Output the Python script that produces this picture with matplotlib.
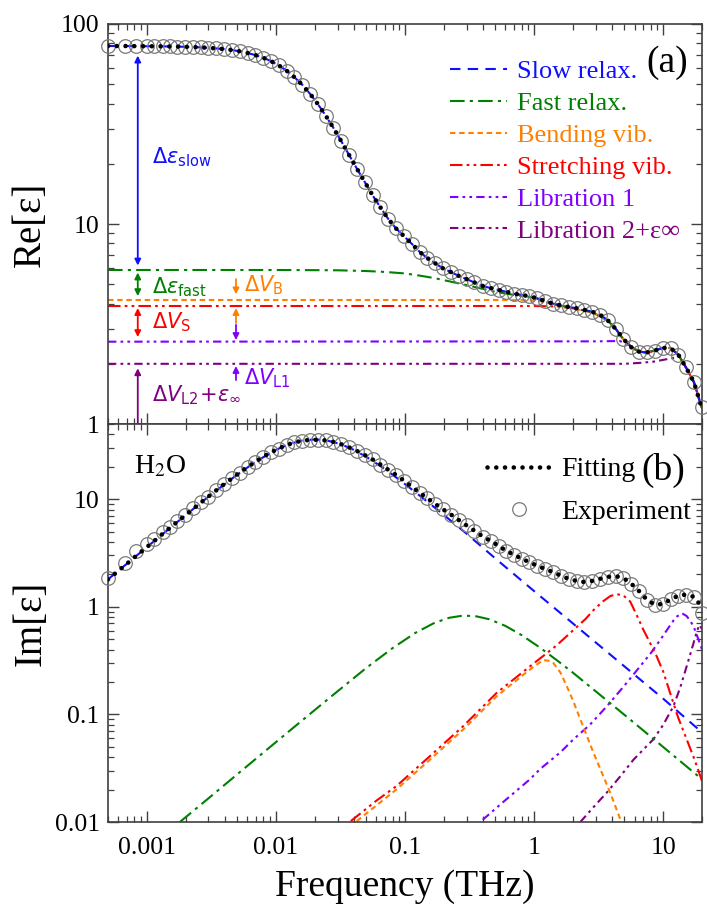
#!/usr/bin/env python3
"""Dielectric spectrum of water: Re and Im parts with relaxation/vibration components."""

import matplotlib

matplotlib.use("Agg")
import matplotlib.pyplot as plt
from matplotlib.lines import Line2D
from matplotlib.ticker import FixedLocator, FuncFormatter, LogLocator, NullFormatter

plt.rcParams["font.family"] = ["Liberation Serif", "DejaVu Serif"]
plt.rcParams["mathtext.fontset"] = "stix"

# ---- data (frequency in THz) ----
freq_thz = [0.00050, 0.00068, 0.00083, 0.00100, 0.00113, 0.00134, 0.00150, 0.00172, 0.00198, 0.00228,
            0.00262, 0.00300, 0.00345, 0.00397, 0.00456, 0.00525, 0.00603, 0.00693, 0.00797, 0.00916,
            0.0105, 0.0121, 0.0139, 0.0160, 0.0184, 0.0211, 0.0243, 0.0279, 0.0321, 0.0369,
            0.0424, 0.0488, 0.0561, 0.0645, 0.0741, 0.0852, 0.098, 0.113, 0.130, 0.149,
            0.172, 0.197, 0.227, 0.261, 0.300, 0.345, 0.40, 0.46, 0.53, 0.61,
            0.70, 0.80, 0.92, 1.06, 1.22, 1.40, 1.61, 1.85, 2.13, 2.45,
            2.82, 3.24, 3.72, 4.28, 4.92, 5.66, 6.5, 7.5, 8.6, 9.9,
            11.4, 13.1, 15.0, 17.3, 19.9]

exp_re = [77.6, 77.6, 77.5, 77.4, 77.4, 77.3, 77.2, 77.1, 76.9, 76.7,
          76.4, 76.0, 75.5, 74.9, 74.1, 73.0, 71.6, 69.9, 67.8, 65.2,
          62.1, 58.4, 54.2, 49.6, 44.7, 39.8, 34.8, 30.2, 25.9, 22.1,
          18.9, 16.2, 13.9, 12.1, 10.6, 9.5, 8.7, 7.95, 7.25, 6.75,
          6.35, 6.0, 5.75, 5.5, 5.3, 5.1, 4.9, 4.78, 4.68, 4.58,
          4.48, 4.42, 4.35, 4.25, 4.12, 4.0, 3.92, 3.85, 3.79, 3.72,
          3.64, 3.52, 3.30, 2.99, 2.66, 2.42, 2.30, 2.28, 2.33, 2.40,
          2.40, 2.22, 1.92, 1.62, 1.22]

exp_im = [1.85, 2.55, 3.30, 3.85, 4.25, 4.95, 5.5, 6.25, 7.15, 8.2,
          9.35, 10.6, 12.1, 13.8, 15.6, 17.7, 19.9, 22.3, 24.8, 27.3,
          29.6, 31.9, 33.7, 35.0, 35.6, 35.7, 35.2, 34.1, 32.4, 30.3,
          28.1, 25.7, 23.4, 21.0, 18.8, 16.8, 14.9, 13.0, 11.5, 10.2,
          9.0, 8.05, 7.2, 6.4, 5.7, 5.1, 4.5, 4.1, 3.7, 3.3,
          3.05, 2.8, 2.6, 2.4, 2.25, 2.1, 1.95, 1.82, 1.74, 1.70,
          1.74, 1.82, 1.90, 1.93, 1.85, 1.64, 1.40, 1.16, 1.05, 1.06,
          1.17, 1.27, 1.30, 1.24, 0.88]

fit_re = [77.6, 77.6, 77.5, 77.4, 77.4, 77.3, 77.2, 77.1, 76.9, 76.7,
          76.4, 76.0, 75.5, 74.9, 74.1, 73.0, 71.6, 69.9, 67.8, 65.2,
          62.1, 58.4, 54.2, 49.6, 44.7, 39.8, 34.8, 30.2, 25.9, 22.1,
          18.9, 16.2, 13.9, 12.1, 10.6, 9.5, 8.7, 7.95, 7.25, 6.75,
          6.35, 6.0, 5.75, 5.5, 5.3, 5.1, 4.9, 4.78, 4.68, 4.58,
          4.48, 4.42, 4.35, 4.25, 4.12, 4.0, 3.92, 3.85, 3.79, 3.72,
          3.64, 3.52, 3.30, 2.99, 2.66, 2.42, 2.30, 2.28, 2.33, 2.40,
          2.40, 2.22, 1.92, 1.62, 1.20]

fit_im = [1.80, 2.44, 2.99, 3.59, 4.06, 4.82, 5.39, 6.17, 7.08, 8.12,
          9.3, 10.6, 12.1, 13.8, 15.6, 17.7, 19.9, 22.3, 24.8, 27.3,
          29.6, 31.9, 33.7, 35.0, 35.6, 35.7, 35.2, 34.1, 32.4, 30.3,
          28.1, 25.7, 23.4, 21.0, 18.8, 16.8, 14.9, 13.0, 11.5, 10.2,
          9.0, 8.05, 7.2, 6.4, 5.7, 5.1, 4.5, 4.1, 3.7, 3.3,
          3.05, 2.8, 2.6, 2.4, 2.25, 2.1, 1.95, 1.82, 1.74, 1.70,
          1.74, 1.82, 1.90, 1.93, 1.85, 1.64, 1.40, 1.16, 1.05, 1.06,
          1.17, 1.27, 1.30, 1.24, 1.00]

# cumulative components, real part
fast_re_thz = [0.0005, 0.01, 0.03, 0.05, 0.07, 0.1, 0.13, 0.17, 0.22, 0.3, 0.4, 0.5, 0.7, 1.0, 1.4,
               2.0, 2.8, 3.7, 4.3, 4.9, 5.7, 6.5, 7.5, 8.6, 9.9, 11.4, 13.1, 15.0, 17.3, 20.0]
fast_re = [5.89, 5.89, 5.87, 5.82, 5.76, 5.66, 5.52, 5.36, 5.17, 4.95, 4.74, 4.58, 4.42, 4.28, 3.98,
           3.80, 3.63, 3.30, 2.99, 2.66, 2.42, 2.30, 2.28, 2.33, 2.40, 2.40, 2.22, 1.92, 1.62, 1.20]
bend_re_thz = [0.0005, 0.5, 0.9, 1.1, 1.3, 1.5, 2.0, 2.8, 3.7, 4.3, 4.9, 5.7, 6.5, 7.5, 8.6,
               9.9, 11.4, 13.1, 15.0, 17.3, 20.0]
bend_re = [4.17, 4.17, 4.16, 4.12, 4.02, 3.90, 3.77, 3.62, 3.30, 2.99, 2.66, 2.42, 2.30, 2.28, 2.33,
           2.40, 2.40, 2.22, 1.92, 1.62, 1.20]
stretch_re_thz = [0.0005, 1.0, 1.5, 2.0, 2.8, 3.7, 4.3, 4.9, 5.7, 6.5, 7.5, 8.6, 9.9, 11.4, 13.1,
                  15.0, 17.3, 20.0]
stretch_re = [3.89, 3.89, 3.87, 3.79, 3.63, 3.30, 2.99, 2.66, 2.42, 2.30, 2.28, 2.33, 2.40, 2.40, 2.22,
              1.92, 1.62, 1.20]
lib1_re_thz = [0.0005, 3.0, 4.6, 5.2, 5.7, 6.5, 7.5, 8.6, 9.9, 11.4, 13.1, 15.0, 17.3, 20.0]
lib1_re = [2.58, 2.59, 2.60, 2.53, 2.42, 2.30, 2.28, 2.33, 2.40, 2.40, 2.22, 1.92, 1.62, 1.20]
lib2_re_thz = [0.0005, 5.0, 6.5, 8.4, 10.7, 13.5, 15.0, 17.3, 20.0]
lib2_re = [2.0, 2.0, 2.02, 2.05, 2.11, 2.17, 1.92, 1.62, 1.20]

# individual components, imaginary part
slow_im_thz = [0.0005, 0.001, 0.002, 0.003, 0.005, 0.007, 0.01, 0.013, 0.016, 0.02, 0.025, 0.032,
               0.04, 0.05, 0.065, 0.08, 0.1, 0.15, 0.2, 0.3, 0.5, 1.0, 2.0, 5.0, 10.0, 20.0]
slow_im = [1.80, 3.59, 7.13, 10.56, 16.9, 22.4, 28.8, 32.9, 35.1, 36.0, 35.1, 32.4,
           28.8, 24.8, 20.2, 16.9, 13.8, 9.43, 7.13, 4.78, 2.82, 1.40, 0.70, 0.28, 0.14, 0.068]
fast_im_thz = [0.0018, 0.003, 0.005, 0.01, 0.02, 0.03, 0.05, 0.08, 0.12, 0.17, 0.22, 0.28, 0.35,
               0.45, 0.6, 0.8, 1.1, 1.5, 2.0, 3.0, 5.0, 8.0, 12.0, 20.0]
fast_im = [0.0100, 0.0166, 0.0277, 0.0553, 0.110, 0.164, 0.270, 0.413, 0.572, 0.712, 0.791, 0.828, 0.820,
           0.766, 0.664, 0.546, 0.421, 0.319, 0.244, 0.164, 0.0993, 0.0622, 0.0415, 0.0249]
bend_im_thz = [0.0423, 0.0863, 0.156, 0.283, 0.514, 0.826, 1.0, 1.18, 1.3, 1.41, 1.6, 1.79, 2.0,
               2.28, 2.88, 3.88, 4.64, 5.0]
bend_im = [0.0102, 0.0202, 0.038, 0.0727, 0.148, 0.234, 0.28, 0.32, 0.315, 0.30, 0.245, 0.183, 0.135,
           0.090, 0.0442, 0.0188, 0.0107, 0.008]
stretch_im_thz = [0.038, 0.06, 0.0863, 0.156, 0.283, 0.514, 0.93, 1.25, 1.5, 2.02, 2.5, 2.88, 3.4,
                  3.9, 4.37, 4.9, 5.55, 6.2, 7.03, 8.0, 8.9, 10.0, 11.3, 13.0, 15.2, 17.5, 20.0]
stretch_im = [0.0102, 0.0158, 0.0217, 0.041, 0.078, 0.159, 0.28, 0.37, 0.44, 0.61, 0.77, 0.93, 1.12,
              1.26, 1.31, 1.28, 1.12, 0.85, 0.61, 0.45, 0.347, 0.25, 0.159, 0.095, 0.0587, 0.038, 0.024]
lib1_im_thz = [0.40, 0.6, 0.93, 1.11, 1.59, 2.02, 2.7, 3.66, 5.0, 6.63, 8.0, 9.5, 11.0, 12.5, 14.0,
               15.2, 16.2, 17.2, 18.5, 20.0]
lib1_im = [0.0105, 0.016, 0.025, 0.031, 0.0442, 0.0587, 0.080, 0.119, 0.185, 0.28, 0.37, 0.494, 0.64,
           0.80, 0.87, 0.82, 0.74, 0.658, 0.52, 0.40]
lib2_im_thz = [2.28, 3.0, 3.66, 4.7, 5.89, 7.0, 8.4, 10.0, 12.0, 13.6, 15.2, 17.0, 18.3, 19.1, 20.0]
lib2_im = [0.010, 0.0145, 0.0188, 0.027, 0.038, 0.047, 0.0587, 0.080, 0.119, 0.18, 0.28, 0.44, 0.60,
           0.68, 0.62]

# ---- styles ----
C_SLOW, C_FAST, C_BEND = "#1010ff", "#008000", "#ff8000"
C_STR, C_LIB1, C_LIB2 = "#ff0000", "#8000ff", "#800080"
LW = 1.5
LS_SLOW = (0, (5, 3.5))
LS_FAST = (0, (7, 2.5, 1.5, 2.5))
LS_BEND = (0, (2.6, 1.8))
LS_STR = (0, (6, 2, 1.3, 2, 1.3, 2))
LS_LIB = (0, (4, 2, 1.3, 2, 1.3, 2))
FIT_KW = dict(color="black", lw=3.3, linestyle=(0, (0.01, 1.9)), dash_capstyle="round", zorder=6)
EXP_KW = dict(ls="none", marker="o", ms=9.8, mfc="none", mec="#7a7a7a", mew=0.9, zorder=5, clip_on=False)
SPINE = "#404040"

fig = plt.figure(figsize=(7.07, 9.16), dpi=100)
ax1 = fig.add_axes([0.1528, 0.5371, 0.8402, 0.4367])
ax2 = fig.add_axes([0.1528, 0.1026, 0.8402, 0.4345])

# ---- (a) real part ----
ax1.plot(lib2_re_thz, lib2_re, color=C_LIB2, lw=LW, ls=LS_LIB, zorder=2)
ax1.plot(lib1_re_thz, lib1_re, color=C_LIB1, lw=LW, ls=LS_LIB, zorder=2)
ax1.plot(stretch_re_thz, stretch_re, color=C_STR, lw=LW, ls=LS_STR, zorder=2)
ax1.plot(bend_re_thz, bend_re, color=C_BEND, lw=LW, ls=LS_BEND, zorder=2)
ax1.plot(fast_re_thz, fast_re, color=C_FAST, lw=LW, ls=LS_FAST, zorder=2)
ax1.plot(freq_thz, fit_re, color=C_SLOW, lw=LW, ls=LS_SLOW, zorder=3)
ax1.plot(freq_thz, exp_re, **EXP_KW)
ax1.plot(freq_thz, fit_re, **FIT_KW)

# ---- (b) imaginary part ----
ax2.plot(lib2_im_thz, lib2_im, color=C_LIB2, lw=LW, ls=LS_LIB, zorder=2)
ax2.plot(lib1_im_thz, lib1_im, color=C_LIB1, lw=LW, ls=LS_LIB, zorder=2)
ax2.plot(stretch_im_thz, stretch_im, color=C_STR, lw=LW, ls=LS_STR, zorder=2)
ax2.plot(bend_im_thz, bend_im, color=C_BEND, lw=LW, ls=LS_BEND, zorder=2)
ax2.plot(fast_im_thz, fast_im, color=C_FAST, lw=LW, ls=LS_FAST, zorder=2)
ax2.plot(slow_im_thz, slow_im, color=C_SLOW, lw=LW, ls=LS_SLOW, zorder=3)
ax2.plot(freq_thz, exp_im, **EXP_KW)
ax2.plot(freq_thz, fit_im, **FIT_KW)


def plain(v, _):
    return f"{v:g}"


for ax, ylim, yt in ((ax1, (1, 100), [1, 10, 100]), (ax2, (0.01, 50), [0.01, 0.1, 1, 10])):
    ax.set_xscale("log")
    ax.set_yscale("log")
    ax.set_xlim(0.0005, 20)
    ax.set_ylim(*ylim)
    ax.xaxis.set_major_locator(FixedLocator([0.001, 0.01, 0.1, 1, 10]))
    ax.xaxis.set_minor_locator(LogLocator(base=10, subs=range(2, 10)))
    ax.yaxis.set_major_locator(FixedLocator(yt))
    ax.yaxis.set_minor_locator(LogLocator(base=10, subs=range(2, 10)))
    ax.xaxis.set_major_formatter(FuncFormatter(plain))
    ax.yaxis.set_major_formatter(FuncFormatter(plain))
    ax.xaxis.set_minor_formatter(NullFormatter())
    ax.yaxis.set_minor_formatter(NullFormatter())
    ax.tick_params(which="both", direction="in", top=True, right=True, color=SPINE, labelsize=18.5)
    ax.tick_params(which="major", length=8, width=1.0)
    ax.tick_params(which="minor", length=4.5, width=0.9)
    ax.tick_params(axis="y", pad=6)
    ax.tick_params(axis="x", pad=11)
    for sp in ax.spines.values():
        sp.set_color(SPINE)
        sp.set_linewidth(1.2)

ax1.tick_params(labelbottom=False)
ax1.set_ylabel("Re[ε]", fontsize=28)
ax2.set_ylabel("Im[ε]", fontsize=28)
ax1.yaxis.set_label_coords(-0.099, 0.5)
ax2.yaxis.set_label_coords(-0.098, 0.5)
ax2.set_xlabel("Frequency (THz)", fontsize=27)
ax2.xaxis.set_label_coords(0.5, -0.118)

# legends
h1 = [
    Line2D([], [], color=C_SLOW, lw=LW, ls=LS_SLOW),
    Line2D([], [], color=C_FAST, lw=LW, ls=LS_FAST),
    Line2D([], [], color=C_BEND, lw=LW, ls=LS_BEND),
    Line2D([], [], color=C_STR, lw=LW, ls=LS_STR),
    Line2D([], [], color=C_LIB1, lw=LW, ls=LS_LIB),
    Line2D([], [], color=C_LIB2, lw=LW, ls=LS_LIB),
]
l1 = ["Slow relax.", "Fast relax.", "Bending vib.", "Stretching vib.", "Libration 1", "Libration 2+ε∞"]
ax1.legend(h1, l1, loc="upper left", bbox_to_anchor=(0.576, 0.911), frameon=False, fontsize=19,
           handlelength=2.16, handletextpad=0.38, labelspacing=0.32, borderpad=0, borderaxespad=0,
           labelcolor="linecolor")
h2 = [Line2D([], [], color="black", lw=3.3, ls=(0, (0.01, 1.9)), dash_capstyle="round"),
      Line2D([], [], ls="none", marker="o", ms=9.8, mfc="none", mec="#7a7a7a", mew=0.9)]
ax2.legend(h2, ["Fitting", "Experiment"], loc="upper left", bbox_to_anchor=(0.638, 0.917),
           frameon=False, fontsize=20, handlelength=2.27, handletextpad=0.4, labelspacing=0.62,
           borderpad=0, borderaxespad=0)

ax1.text(0.941, 0.903, "(a)", transform=ax1.transAxes, fontsize=27, ha="center", va="center")
ax2.text(0.935, 0.884, "(b)", transform=ax2.transAxes, fontsize=27, ha="center", va="center")
ax2.text(0.044, 0.892, "H$_2$O", transform=ax2.transAxes, fontsize=20, ha="left", va="center")

# annotation arrows (panel a)
AX_L, AX_R = 0.00085, 0.0049


def arrow(y0, y1, x, color, style):
    ax1.annotate("", xy=(x, y1), xytext=(x, y0),
                 arrowprops=dict(arrowstyle=style, color=color, lw=1.3, shrinkA=0, shrinkB=0,
                                 mutation_scale=9))


arrow(6.2, 69.5, AX_L, C_SLOW, "<|-|>")
arrow(4.36, 5.72, AX_L, C_FAST, "<|-|>")
arrow(2.72, 3.80, AX_L, C_STR, "<|-|>")
arrow(1.0, 1.90, AX_L, C_LIB2, "-|>")
arrow(5.3, 4.45, AX_R, C_BEND, "-|>")
arrow(3.2, 3.80, AX_R, C_BEND, "-|>")
arrow(3.13, 2.63, AX_R, C_LIB1, "-|>")
arrow(1.66, 1.95, AX_R, C_LIB1, "-|>")

ANN = dict(fontsize=15, family="DejaVu Sans", math_fontfamily="dejavusans", va="center", ha="left")
TX_L, TX_R = 0.00109, 0.00565
ax1.text(TX_L, 21.6, r"$\Delta\varepsilon_{\mathrm{slow}}$", color=C_SLOW, **ANN)
ax1.text(TX_L, 4.84, r"$\Delta\varepsilon_{\mathrm{fast}}$", color=C_FAST, **ANN)
ax1.text(TX_L, 3.24, r"$\Delta V_{\mathrm{S}}$", color=C_STR, **ANN)
ax1.text(TX_L, 1.40, r"$\Delta V_{\mathrm{L2}}\!+\!\varepsilon_{\infty}$", color=C_LIB2, **ANN)
ax1.text(TX_R, 4.95, r"$\Delta V_{\mathrm{B}}$", color=C_BEND, **ANN)
ax1.text(TX_R, 1.70, r"$\Delta V_{\mathrm{L1}}$", color=C_LIB1, **ANN)

fig.savefig("out.png", dpi=100)
